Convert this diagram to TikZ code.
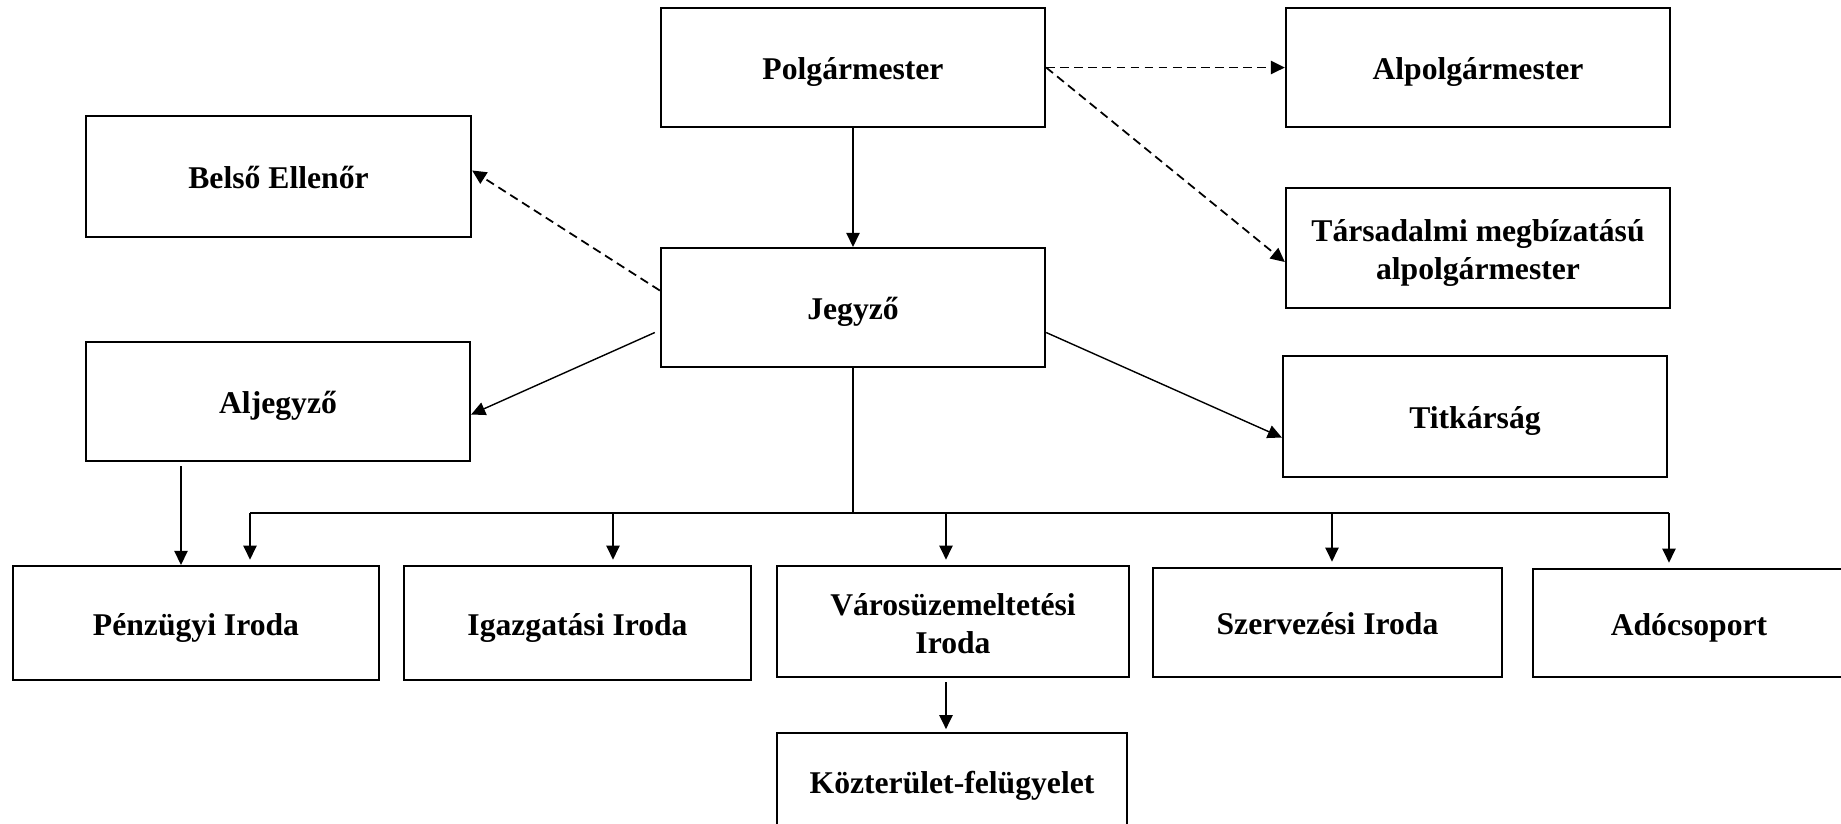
\documentclass[tikz,border=0pt]{standalone}
\usepackage{fontspec}
\setmainfont{Liberation Serif}
\usepackage{tikz}
\usetikzlibrary{arrows.meta,positioning,calc}

\begin{document}
\begin{tikzpicture}[x=0.01cm,y=-0.01cm,
  unit/.style={draw,line width=0.6pt,align=center,inner sep=0pt,
    text height=7pt,text depth=0pt,
    font=\fontsize{9}{10.8}\selectfont\bfseries},
  twoline/.style={unit,text height=18pt},
  arr/.style={line width=0.4pt,-{Triangle[length=4pt,width=3.8pt]}},
  dasharr/.style={arr,line width=0.5pt,dash pattern=on 2.5pt off 1.5pt}]
  \clip (0,0) rectangle (1841,823);

  \node[unit,minimum width=3.84cm,minimum height=1.19cm] (polg) at (853,67.5) {Polgármester};
  \node[unit,minimum width=3.84cm,minimum height=1.19cm] (alpolg) at (1478,67.5) {Alpolgármester};
  \node[unit,minimum width=3.85cm,minimum height=1.21cm] (belso) at (278.5,176.5) {Belső Ellenőr};
  \node[twoline,minimum width=3.84cm,minimum height=1.20cm] (tars) at (1478,248) {Társadalmi megbízatású\\alpolgármester};
  \node[unit,minimum width=3.84cm,minimum height=1.19cm] (jegyzo) at (853,307.5) {Jegyző};
  \node[unit,minimum width=3.84cm,minimum height=1.19cm] (aljegyzo) at (278,401.5) {Aljegyző};
  \node[unit,minimum width=3.84cm,minimum height=1.21cm] (titkar) at (1475,416.5) {Titkárság};

  \node[unit,minimum width=3.66cm,minimum height=1.14cm] (penz) at (196,623) {Pénzügyi Iroda};
  \node[unit,minimum width=3.47cm,minimum height=1.14cm] (igazg) at (577.5,623) {Igazgatási Iroda};
  \node[twoline,minimum width=3.52cm,minimum height=1.11cm] (varos) at (953,621.5) {Városüzemeltetési\\Iroda};
  \node[unit,minimum width=3.49cm,minimum height=1.09cm] (szerv) at (1327.5,622.5) {Szervezési Iroda};
  \node[unit,minimum width=3.12cm,minimum height=1.08cm] (ado) at (1689,623) {Adócsoport};
  \node[unit,minimum width=3.50cm,minimum height=0.96cm] (kozter) at (952,781) {Közterület-felügyelet};

  % polgarmester
  \draw[arr] (polg) -- (jegyzo);
  \draw[dasharr] (polg.east) -- (alpolg.west);
  \draw[dasharr] (polg.east) -- ($(tars.west)+(0,14)$);

  % jegyzo
  \draw[dasharr] ($(jegyzo.west)+(0,-17)$) -- ($(belso.east)+(0,-6)$);
  \draw[arr] ($(jegyzo.west)+(-5,25)$) -- ($(aljegyzo.east)+(0,13)$);
  \draw[arr] ($(jegyzo.east)+(0,25)$) -- ($(titkar.west)+(0,21)$);

  % irodak
  \coordinate (d1) at (250,513);
  \coordinate (d2) at (613,513);
  \coordinate (d3) at (946,513);
  \coordinate (d4) at (1332,513);
  \coordinate (d5) at (1669,513);
  \draw[line width=0.4pt] (jegyzo.south) -- (jegyzo.south |- d1);
  \draw[line width=0.6pt] (d1) -- (d5);
  \draw[arr,shorten >=1.5pt] (d1) -- (d1 |- penz.north);
  \draw[arr,shorten >=1.5pt] (d2) -- (d2 |- igazg.north);
  \draw[arr,shorten >=1.5pt] (d3) -- (d3 |- varos.north);
  \draw[arr,shorten >=1.5pt] (d4) -- (d4 |- szerv.north);
  \draw[arr,shorten >=1.5pt] (d5) -- (d5 |- ado.north);

  \draw[arr] ($(aljegyzo.south)+(-97,4)$) coordinate (a) -- (a |- penz.north);
  \draw[arr,shorten >=0.8pt] ($(varos.south)+(-7,4)$) coordinate (v) -- (v |- kozter.north);
\end{tikzpicture}
\end{document}
